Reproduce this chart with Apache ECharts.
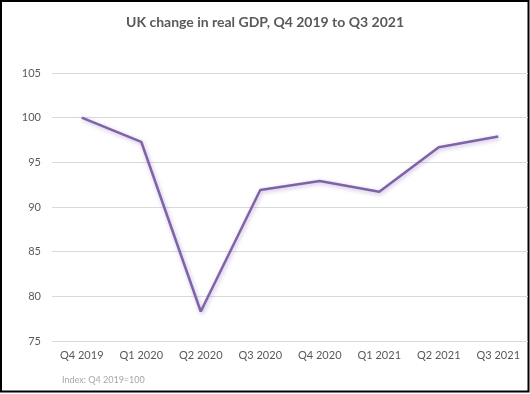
<!DOCTYPE html>
<html>
<head>
<meta charset="utf-8">
<script src="https://cdn.jsdelivr.net/npm/echarts@6/dist/echarts.min.js"></script>
<style>
html,body{margin:0;padding:0;background:#fff;}
#chart{width:530px;height:394px;}
</style>
</head>
<body>
<div id="chart"></div>
<script>
const categories = ['Q4 2019','Q1 2020','Q2 2020','Q3 2020','Q4 2020','Q1 2021','Q2 2021','Q3 2021'];
const gdpIndex = [100, 97.3, 78.3, 91.9, 92.9, 91.7, 96.7, 97.9];
const chartTitle = 'UK change in real GDP, Q4 2019 to Q3 2021';
const footnote = 'Index: Q4 2019=100';

const chart = echarts.init(document.getElementById('chart'), null, {renderer:'canvas'});
const FONT = 'Lato, "Open Sans", sans-serif';
chart.setOption({
  animation: false,
  backgroundColor: '#ffffff',
  title: {
    text: chartTitle,
    left: 'center',
    top: 10,
    textStyle: {fontFamily: FONT, fontSize: 14, fontWeight: 'bold', color: '#595959'}
  },
  grid: {left: 52, right: 2, top: 73, bottom: 53},
  xAxis: {
    type: 'category',
    data: categories,
    boundaryGap: true,
    axisLine: {show: false},
    axisTick: {show: false},
    axisLabel: {fontFamily: FONT, fontSize: 11, color: '#595959', margin: 9}
  },
  yAxis: {
    type: 'value',
    min: 75, max: 105, interval: 5,
    axisLine: {show: false},
    axisTick: {show: false},
    axisLabel: {fontFamily: FONT, fontSize: 11, color: '#595959', margin: 11},
    splitLine: {lineStyle: {color: '#d9d9d9', width: 1}}
  },
  series: [{
    type: 'line',
    data: gdpIndex,
    symbol: 'none',
    lineStyle: {
      color: '#7f63a8', width: 2.5,
      shadowColor: 'rgba(150,120,190,0.55)', shadowBlur: 4, shadowOffsetX: 1, shadowOffsetY: 1.5
    }
  }],
  graphic: [
    {type: 'text', left: 62, top: 376, style: {text: footnote, fontFamily: FONT, fontSize: 9, fill: '#a6a6a6'}},
    {type: 'rect', shape: {x: 1, y: 1, width: 527.5, height: 390.5}, style: {fill: 'none', stroke: '#000', lineWidth: 2}, silent: true}
  ]
});
</script>
</body>
</html>
